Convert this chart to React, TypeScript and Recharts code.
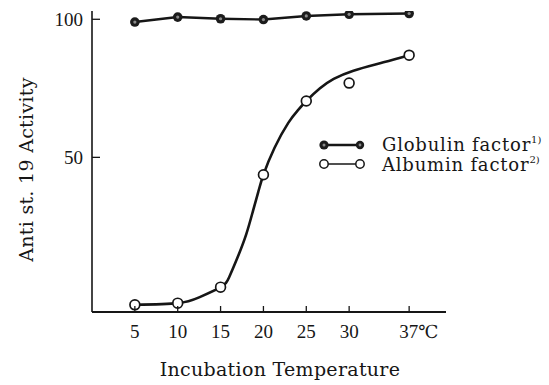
import React from 'react';
import { ComposedChart, Line, Scatter, XAxis, YAxis } from 'recharts';

const temperatures = [5, 10, 15, 20, 25, 30, 37];
const globulinActivity = [99.0, 100.8, 100.2, 99.9, 101.2, 101.8, 102.1];
const albuminActivity = [-3.4, -2.8, 3.0, 43.7, 70.4, 76.9, 87.0];
const albuminCurveTemps = [5, 10, 12.5, 15, 16, 17, 18, 18.8, 19.4, 20, 21.3, 22.9, 24, 25, 26.6, 28.2, 30.5, 34, 37];
const albuminCurveValues = [-3.4, -2.8, -0.7, 3.0, 6.6, 13.9, 22.2, 30.8, 37.5, 43.7, 53.5, 62.5, 67.0, 70.4, 75.0, 78.4, 81.4, 84.4, 87.0];
const xTickLabels = ['5', '10', '15', '20', '25', '30', '37℃'];
const yTicks = [50, 100];
const yTickLabels = ['50', '100'];

const globulinData = temperatures.map((t, i) => ({ t, v: globulinActivity[i] }));
const albuminData = temperatures.map((t, i) => ({ t, v: albuminActivity[i] }));
const curveData = albuminCurveTemps.map((t, i) => ({ t, v: albuminCurveValues[i] }));

const INK = '#161616';
const TICK_FONT = '"Liberation Serif", "Times New Roman", serif';
const TITLE_FONT = '"DejaVu Serif", serif';

const XTick = (props: any) => {
  const { x, y, index } = props;
  const label = xTickLabels[index] ?? String(props.payload.value);
  const isLast = label.endsWith('℃');
  return (
    <g>
      <line x1={x} x2={x} y1={y} y2={y - 6} stroke={INK} strokeWidth={1.3} />
      {isLast ? (
        <text x={x - 10} y={y + 26} fontFamily={TICK_FONT} fontSize={19} fill={INK} textAnchor="start">
          {label.slice(0, -1)}
          <tspan fontFamily={TITLE_FONT} fontSize={18}>{'℃'}</tspan>
        </text>
      ) : (
        <text x={x} y={y + 26} fontFamily={TICK_FONT} fontSize={19} fill={INK} textAnchor="middle">
          {label}
        </text>
      )}
    </g>
  );
};

const YTick = (props: any) => {
  const { x, y, payload } = props;
  const idx = yTicks.indexOf(payload.value);
  return (
    <g>
      <line x1={x} x2={x + 8} y1={y} y2={y} stroke={INK} strokeWidth={1.3} />
      <text x={x - 9} y={y + 7} fontFamily={TICK_FONT} fontSize={19} fill={INK} textAnchor="end">
        {yTickLabels[idx]}
      </text>
    </g>
  );
};

const GlobulinDot = (props: any) => {
  const { cx, cy } = props;
  if (cx == null || cy == null) return null;
  return (
    <g key={`g-${cx}`}>
      <circle cx={cx} cy={cy} r={4.8} fill="#1c1c1c" />
      <circle cx={cx} cy={cy} r={1.6} fill="#8a8a8a" />
    </g>
  );
};

const AlbuminDot = (props: any) => {
  const { cx, cy } = props;
  if (cx == null || cy == null) return null;
  return <circle cx={cx} cy={cy} r={4.9} fill="#fff" stroke={INK} strokeWidth={1.7} />;
};

const YLabel = (props: any) => {
  const vb = props.viewBox || { x: 0, y: 11, width: 92, height: 301 };
  const cx = vb.x + 26;
  const cy = vb.y + vb.height / 2 + 8;
  return (
    <text
      x={cx}
      y={cy}
      transform={`rotate(-90, ${cx}, ${cy})`}
      textAnchor="middle"
      dominantBaseline="central"
      fontFamily={TITLE_FONT}
      fontSize={19}
      letterSpacing={0.3}
      fill={INK}
    >
      Anti st. 19 Activity
    </text>
  );
};

const XLabel = (props: any) => {
  const vb = props.viewBox || { x: 92, y: 312, width: 354, height: 73 };
  const cx = vb.x + vb.width / 2 + 11;
  return (
    <text x={cx} y={vb.y + 64} textAnchor="middle" fontFamily={TITLE_FONT} fontSize={19} letterSpacing={0.3} fill={INK}>
      Incubation Temperature
    </text>
  );
};

const LegendBox = () => (
  <svg width={231} height={52} style={{ position: 'absolute', left: 318, top: 130 }}>
    <line x1={6} x2={42} y1={15} y2={15} stroke={INK} strokeWidth={2.4} />
    <circle cx={6} cy={15} r={4.6} fill="#1c1c1c" />
    <circle cx={6} cy={15} r={1.5} fill="#8a8a8a" />
    <circle cx={42} cy={15} r={4.2} fill="#1c1c1c" />
    <circle cx={42} cy={15} r={1.4} fill="#8a8a8a" />
    <text x={64} y={21} fontFamily={TITLE_FONT} fontSize={18} letterSpacing={0.8} fill={INK}>
      Globulin factor
      <tspan fontSize={10} dy={-8} letterSpacing={0}>1)</tspan>
    </text>
    <line x1={6} x2={42} y1={34} y2={34} stroke={INK} strokeWidth={1.3} />
    <circle cx={6} cy={34} r={4.2} fill="#fff" stroke={INK} strokeWidth={1.5} />
    <circle cx={42} cy={34} r={4.2} fill="#fff" stroke={INK} strokeWidth={1.5} />
    <text x={64} y={41} fontFamily={TITLE_FONT} fontSize={18} letterSpacing={0.8} fill={INK}>
      Albumin factor
      <tspan fontSize={10} dy={-8} letterSpacing={0}>2)</tspan>
    </text>
  </svg>
);

export default function App() {
  return (
    <div style={{ position: 'absolute', left: 0, top: 0, width: 549, height: 385, background: '#fff' }}>
      <ComposedChart width={549} height={385} margin={{ top: 11, right: 103, bottom: 0, left: 0 }}>
        <XAxis
          type="number"
          dataKey="t"
          domain={[0, 41.3]}
          ticks={temperatures}
          allowDataOverflow
          height={73}
          tickSize={0}
          tickMargin={0}
          tickLine={false}
          axisLine={{ stroke: INK, strokeWidth: 1.8 }}
          tick={<XTick />}
          interval={0}
          label={<XLabel />}
        />
        <YAxis
          type="number"
          dataKey="v"
          domain={[-6, 103]}
          ticks={yTicks}
          allowDataOverflow
          width={92}
          tickSize={0}
          tickMargin={0}
          tickLine={false}
          axisLine={{ stroke: INK, strokeWidth: 1.6 }}
          tick={<YTick />}
          interval={0}
          label={<YLabel />}
        />
        <Line
          data={globulinData}
          dataKey="v"
          type="linear"
          stroke={INK}
          strokeWidth={2.4}
          dot={<GlobulinDot />}
          activeDot={false}
          isAnimationActive={false}
        />
        <Line
          data={curveData}
          dataKey="v"
          type="natural"
          stroke={INK}
          strokeWidth={2.6}
          dot={false}
          activeDot={false}
          isAnimationActive={false}
        />
        <Scatter
          data={albuminData}
          dataKey="v"
          shape={<AlbuminDot />}
          isAnimationActive={false}
        />
      </ComposedChart>
      <LegendBox />
    </div>
  );
}
